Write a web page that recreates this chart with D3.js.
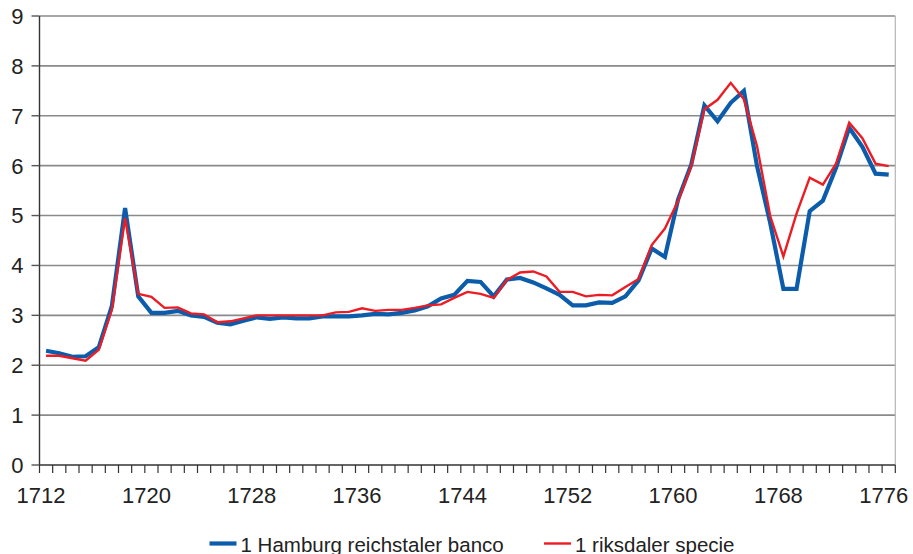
<!DOCTYPE html>
<html>
<head>
<meta charset="utf-8">
<script src="https://cdn.jsdelivr.net/npm/d3@7"></script>
<style>
  html, body { margin: 0; padding: 0; background: #fff; }
  svg { display: block; font-family: "Liberation Sans", Arial, sans-serif; }
</style>
</head>
<body>
<svg id="chart" width="913" height="554"></svg>
<script>
// ---- data ----
const years = d3.range(1712, 1777);
const yTicks = [0, 1, 2, 3, 4, 5, 6, 7, 8, 9];
const xLabelYears = [1712, 1720, 1728, 1736, 1744, 1752, 1760, 1768, 1776];
const seriesNames = ["1 Hamburg reichstaler banco", "1 riksdaler specie"];
const hamburg = [
  2.29, 2.24, 2.17, 2.18, 2.36, 3.19, 5.15, 3.38, 3.05, 3.05,
  3.09, 3.00, 2.97, 2.85, 2.82, 2.89, 2.96, 2.93, 2.96, 2.94,
  2.94, 2.98, 2.98, 2.98, 3.00, 3.03, 3.02, 3.05, 3.10, 3.18,
  3.34, 3.41, 3.69, 3.67, 3.38, 3.72, 3.75, 3.66, 3.54, 3.41,
  3.20, 3.20, 3.26, 3.25, 3.38, 3.70, 4.34, 4.17, 5.32, 6.02,
  7.21, 6.89, 7.26, 7.50, 5.99, 4.85, 3.53, 3.53, 5.09, 5.30,
  5.96, 6.76, 6.38, 5.84, 5.82
];
const riksdaler = [
  2.19, 2.19, 2.14, 2.09, 2.31, 3.11, 4.95, 3.43, 3.37, 3.15,
  3.16, 3.04, 3.02, 2.86, 2.88, 2.94, 3.00, 3.00, 3.00, 3.00,
  3.00, 3.00, 3.06, 3.07, 3.14, 3.09, 3.11, 3.11, 3.15, 3.20,
  3.22, 3.35, 3.47, 3.43, 3.35, 3.71, 3.86, 3.88, 3.78, 3.47,
  3.47, 3.38, 3.41, 3.40, 3.57, 3.73, 4.41, 4.74, 5.29, 5.99,
  7.13, 7.32, 7.66, 7.33, 6.39, 4.99, 4.18, 5.04, 5.76, 5.62,
  6.04, 6.86, 6.55, 6.04, 5.99
];
const colors = ["#0b5cab", "#ec1c24"];

(function () {
// ---- layout ----
const pLeft = 39.5, pRight = 895.3, pTop = 16, pBottom = 465;
const svg = d3.select("#chart");

const x = d3.scaleBand().domain(years).range([pLeft, pRight]).paddingInner(0).paddingOuter(0);
const y = d3.scaleLinear().domain([0, 9]).range([pBottom, pTop]);
const cx = d => x(d) + x.bandwidth() / 2;

// gridlines
svg.append("g").selectAll("line").data(yTicks.filter(t => t > 0)).join("line")
  .attr("x1", pLeft).attr("x2", pRight)
  .attr("y1", d => y(d)).attr("y2", d => y(d))
  .attr("stroke", "#8a8a8a").attr("stroke-width", 1.6);

// right border
svg.append("line").attr("x1", pRight).attr("x2", pRight).attr("y1", y(9)).attr("y2", y(0))
  .attr("stroke", "#b5b5b5").attr("stroke-width", 1.2);

// y axis
const yAxis = svg.append("g");
yAxis.append("line").attr("x1", pLeft).attr("x2", pLeft).attr("y1", y(9)).attr("y2", y(0))
  .attr("stroke", "#333").attr("stroke-width", 1.4);
yAxis.selectAll("line.tk").data(yTicks).join("line").attr("class", "tk")
  .attr("x1", pLeft - 8).attr("x2", pLeft)
  .attr("y1", d => y(d)).attr("y2", d => y(d))
  .attr("stroke", "#555").attr("stroke-width", 1.4);
yAxis.selectAll("text").data(yTicks).join("text")
  .attr("x", 23.5).attr("y", d => y(d)).attr("dy", "0.36em")
  .attr("text-anchor", "end").attr("font-size", 22).attr("fill", "#222")
  .text(d => d);

// x axis
const xAxis = svg.append("g");
xAxis.append("line").attr("x1", pLeft).attr("x2", pRight).attr("y1", y(0)).attr("y2", y(0))
  .attr("stroke", "#333").attr("stroke-width", 1.4);
const boundaries = years.map(d => x(d)).concat([x(years[years.length - 1]) + x.bandwidth()]);
xAxis.selectAll("line.tk").data(boundaries).join("line").attr("class", "tk")
  .attr("x1", d => d).attr("x2", d => d)
  .attr("y1", y(0)).attr("y2", y(0) + 8)
  .attr("stroke", "#333").attr("stroke-width", 1.2);
xAxis.selectAll("text").data(xLabelYears).join("text")
  .attr("x", d => cx(d) - 5).attr("y", 503)
  .attr("text-anchor", "middle").attr("font-size", 22).attr("fill", "#222")
  .text(d => d);

// lines
const line = d3.line().x((d, i) => cx(years[i])).y(d => y(d));
svg.append("path").datum(hamburg).attr("d", line)
  .attr("fill", "none").attr("stroke", colors[0]).attr("stroke-width", 4.2)
  .attr("stroke-linejoin", "miter");
svg.append("path").datum(riksdaler).attr("d", line)
  .attr("fill", "none").attr("stroke", colors[1]).attr("stroke-width", 2.4)
  .attr("stroke-linejoin", "miter");

// legend
const legend = svg.append("g");
const legendItems = [
  { name: seriesNames[0], color: colors[0], sw: 4.2, x0: 209.5 },
  { name: seriesNames[1], color: colors[1], sw: 2.4, x0: 544 }
];
legendItems.forEach(it => {
  legend.append("line").attr("x1", it.x0).attr("x2", it.x0 + 27)
    .attr("y1", 543.5).attr("y2", 543.5)
    .attr("stroke", it.color).attr("stroke-width", it.sw);
  legend.append("text").attr("x", it.x0 + 31).attr("y", 551.5)
    .attr("font-size", 20.5).attr("fill", "#222").text(it.name);
});
})();
</script>
</body>
</html>
